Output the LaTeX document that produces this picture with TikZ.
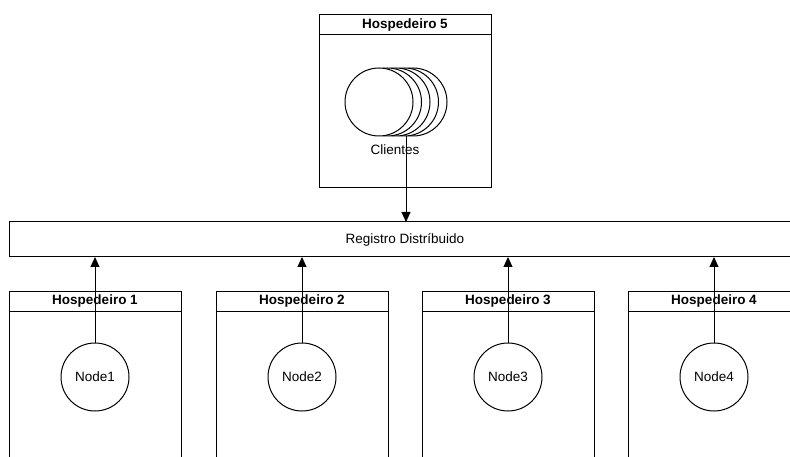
\documentclass[tikz,border=0pt]{standalone}
\usepackage{fontspec}
\setmainfont{Liberation Sans}
\usetikzlibrary{arrows.meta,calc}
\begin{document}
\begin{tikzpicture}[x=1pt,y=-1pt,
  every node/.style={font=\fontsize{13.5}{16}\selectfont, inner sep=0pt, outer sep=0pt},
  line/.style={draw=black, line width=1pt},
  hosthead/.style={line, minimum width=172pt, minimum height=20pt, anchor=north west, font=\fontsize{13.5}{16}\selectfont\bfseries},
  hostbody/.style={line, minimum width=172pt, anchor=north west},
  proc/.style={line, circle, minimum size=68pt, fill=white},
  conn/.style={line, -{Triangle[width=9pt,length=10pt]}}]
\useasboundingbox (0,0) rectangle (790,457);
\clip (0,0) rectangle (790,457);
% Host 5
\node[hosthead] (hd5) at (319,15) {Hospedeiro 5};
\node[hostbody, minimum height=153pt] (hb5) at (hd5.south west) {};
\foreach \i/\x in {5/413,4/404.5,3/396,2/387.5,1/379}
  \node[proc] (c\i) at (\x,102) {};
\node (cl) at (395,150) {Clientes};
% registry
\node[line, minimum width=792pt, minimum height=35pt, anchor=north west] (reg) at (9,222) {Registro Distríbuido};
\coordinate (cs) at ($(c1.south)+(27,0)$);
\draw[conn] (cs) -- (cs |- reg.north);
% hosts
\foreach \i/\x in {1/9,2/216,3/422,4/628} {
  \node[hosthead] (hd\i) at (\x,291) {Hospedeiro \i};
  \node[hostbody, minimum height=200pt] (hb\i) at (hd\i.south west) {};
  \node[proc] (n\i) at (\x+86,377) {Node\i};
  \draw[conn] (n\i.north) -- (n\i.north |- reg.south);
}
\end{tikzpicture}
\end{document}
